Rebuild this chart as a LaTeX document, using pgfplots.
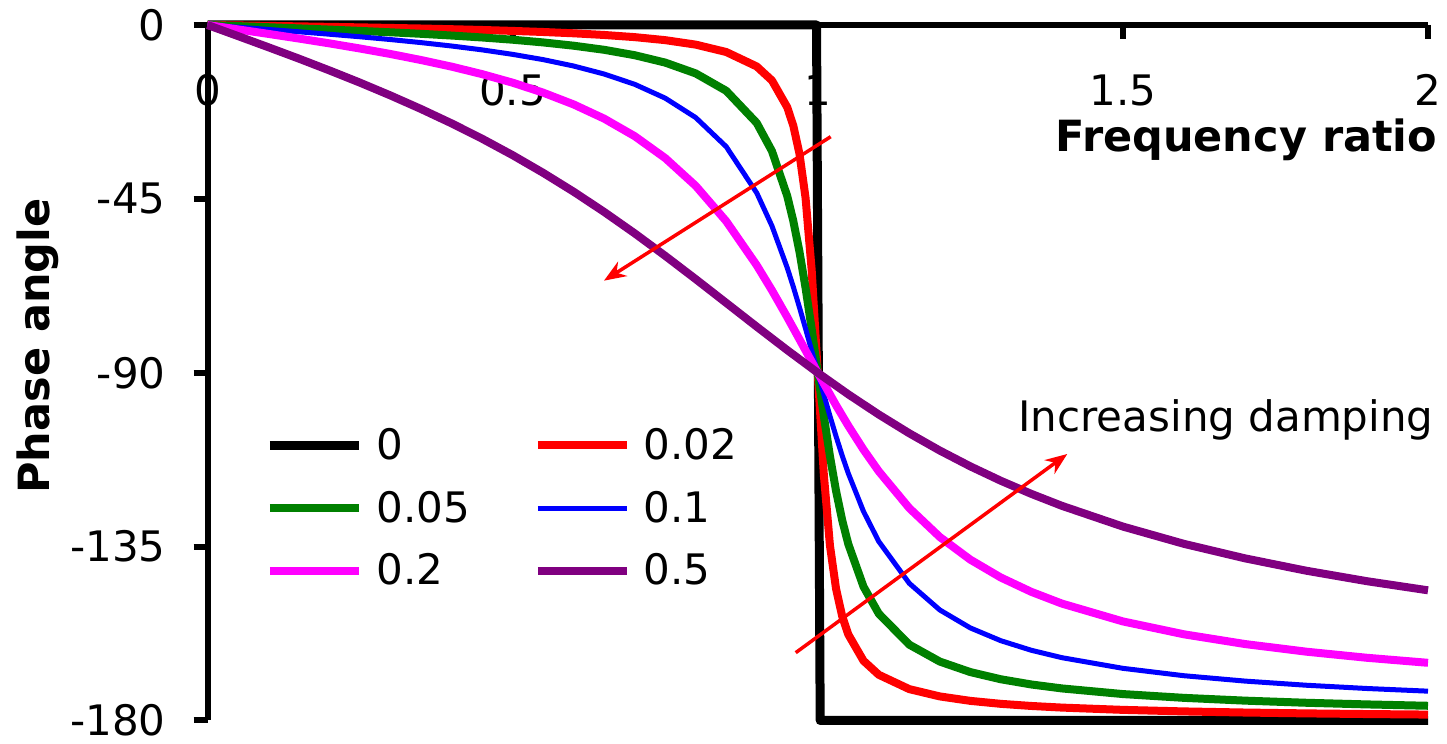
\documentclass[border=0pt]{standalone}
\usepackage{fontspec}
\setmainfont{DejaVu Sans}
\usepackage{pgfplots}
\pgfplotsset{compat=1.18}
\usetikzlibrary{arrows.meta}
\definecolor{xlgreen}{RGB}{0,128,0}
\definecolor{xlpurple}{RGB}{128,0,128}
\definecolor{xlmag}{RGB}{255,0,255}
\newcommand{\lbl}{\fontsize{21}{25}\selectfont}
\newcommand{\blbl}{\fontsize{21.5}{25}\selectfont\bfseries}
\begin{document}
\begin{tikzpicture}
\begin{axis}[
  scale only axis, width=610.25pt, height=347.75pt,
  xmin=0, xmax=2, ymin=-180, ymax=0,
  axis x line=top, axis y line=left,
  axis line style={-, line width=3pt, black},
  every outer x axis line/.append style={-},
  every outer y axis line/.append style={-},
  xtick={0,0.5,1,1.5,2}, ytick={0,-45,-90,-135,-180},
  xticklabels={0,0.5,1,1.5,2},
  yticklabels={0,-45,-90,-135,-180},
  tick align=inside, major tick length=7pt,
  tick style={line width=3pt, black},
  every y tick/.append style={xshift=-7pt},
  xticklabel style={anchor=north, inner sep=0pt, yshift=-24.5pt, font=\lbl},
  yticklabel style={anchor=east, inner sep=0pt, xshift=-20.75pt, font=\lbl},
  clip=false,
  legend columns=2,
  legend cell align=left,
  legend image code/.code={\draw[#1] (0pt,0pt) -- (44.5pt,0pt);},
  legend style={at={(axis cs:0.0942,-104.3)}, anchor=north west,
    draw=none, fill=none, inner sep=0pt, font=\lbl,
    nodes={inner sep=0pt}, row sep=14.2pt,
    /tikz/every odd column/.append style={column sep=6.5pt},
    /tikz/every even column/.append style={column sep=32pt}},
  every axis plot/.append style={line join=round},
]
\addplot[black, line width=4.5pt] coordinates {(0,0)(0.998,0)(1.004,-180)(2,-180)};
\addlegendentry{0}
\addplot[red, line width=4pt] coordinates {(0,0)(0.05,-0.11)(0.1,-0.23)(0.15,-0.35)(0.2,-0.48)(0.25,-0.61)(0.3,-0.76)(0.35,-0.91)(0.4,-1.09)(0.45,-1.29)(0.5,-1.53)(0.55,-1.81)(0.6,-2.15)(0.65,-2.58)(0.7,-3.14)(0.75,-3.92)(0.8,-5.08)(0.85,-6.99)(0.9,-10.73)(0.925,-14.37)(0.95,-21.29)(0.96,-26.10)(0.97,-33.29)(0.98,-44.71)(0.99,-63.32)(1,-90)(1.01,-116.45)(1.02,-134.72)(1.03,-145.92)(1.04,-152.99)(1.05,-157.72)(1.075,-164.55)(1.1,-168.17)(1.15,-171.88)(1.2,-173.77)(1.25,-174.92)(1.3,-175.69)(1.35,-176.24)(1.4,-176.66)(1.5,-177.25)(1.6,-177.65)(1.7,-177.94)(1.8,-178.16)(1.9,-178.33)(2,-178.47)};
\addlegendentry{0.02}
\addplot[xlgreen, line width=4pt] coordinates {(0,0)(0.05,-0.29)(0.1,-0.58)(0.15,-0.88)(0.2,-1.19)(0.25,-1.53)(0.3,-1.89)(0.35,-2.28)(0.4,-2.73)(0.45,-3.23)(0.5,-3.81)(0.55,-4.51)(0.6,-5.36)(0.65,-6.42)(0.7,-7.82)(0.75,-9.73)(0.8,-12.53)(0.85,-17.03)(0.9,-25.35)(0.925,-32.65)(0.95,-44.26)(0.96,-50.76)(0.97,-58.65)(0.98,-68.00)(0.99,-78.63)(1,-90)(1.01,-101.26)(1.02,-111.61)(1.03,-120.59)(1.04,-128.12)(1.05,-134.31)(1.075,-145.37)(1.1,-152.35)(1.15,-160.37)(1.2,-164.75)(1.25,-167.47)(1.3,-169.33)(1.35,-170.68)(1.4,-171.70)(1.5,-173.16)(1.6,-174.14)(1.7,-174.86)(1.8,-175.41)(1.9,-175.84)(2,-176.19)};
\addlegendentry{0.05}
\addplot[blue, line width=2.5pt] coordinates {(0,0)(0.05,-0.57)(0.1,-1.16)(0.15,-1.76)(0.2,-2.39)(0.25,-3.05)(0.3,-3.77)(0.35,-4.56)(0.4,-5.44)(0.45,-6.44)(0.5,-7.60)(0.55,-8.96)(0.6,-10.62)(0.65,-12.69)(0.7,-15.35)(0.75,-18.93)(0.8,-23.96)(0.85,-31.49)(0.9,-43.45)(0.925,-52.03)(0.95,-62.84)(0.96,-67.79)(0.97,-73.06)(0.98,-78.58)(0.99,-84.26)(1,-90)(1.01,-95.68)(1.02,-101.20)(1.03,-106.47)(1.04,-111.42)(1.05,-116.02)(1.075,-125.90)(1.1,-133.67)(1.15,-144.50)(1.2,-151.39)(1.25,-156.04)(1.3,-159.35)(1.35,-161.83)(1.4,-163.74)(1.5,-166.50)(1.6,-168.41)(1.7,-169.80)(1.8,-170.87)(1.9,-171.72)(2,-172.41)};
\addlegendentry{0.1}
\addplot[xlmag, line width=4pt] coordinates {(0,0)(0.05,-1.15)(0.1,-2.31)(0.15,-3.51)(0.2,-4.76)(0.25,-6.09)(0.3,-7.51)(0.35,-9.07)(0.4,-10.78)(0.45,-12.72)(0.5,-14.93)(0.55,-17.51)(0.6,-20.56)(0.65,-24.24)(0.7,-28.77)(0.75,-34.44)(0.8,-41.63)(0.85,-50.78)(0.9,-62.18)(0.925,-68.68)(0.95,-75.61)(0.97,-81.34)(1,-90)(1.03,-98.41)(1.05,-103.71)(1.075,-109.90)(1.1,-115.51)(1.15,-125.03)(1.2,-132.51)(1.25,-138.37)(1.3,-143.00)(1.35,-146.71)(1.4,-149.74)(1.5,-154.36)(1.6,-157.69)(1.7,-160.21)(1.8,-162.18)(1.9,-163.77)(2,-165.07)};
\addlegendentry{0.2}
\addplot[xlpurple, line width=4pt] coordinates {(0,0)(0.05,-2.87)(0.1,-5.77)(0.15,-8.72)(0.2,-11.77)(0.25,-14.93)(0.3,-18.25)(0.35,-21.75)(0.4,-25.46)(0.45,-29.43)(0.5,-33.69)(0.55,-38.26)(0.6,-43.15)(0.65,-48.38)(0.7,-53.92)(0.75,-59.74)(0.8,-65.77)(0.85,-71.92)(0.9,-78.08)(0.95,-84.14)(1,-90)(1.05,-95.58)(1.1,-100.81)(1.15,-105.67)(1.2,-110.14)(1.25,-114.23)(1.3,-117.96)(1.35,-121.35)(1.4,-124.44)(1.5,-129.81)(1.6,-134.28)(1.7,-138.03)(1.8,-141.22)(1.9,-143.95)(2,-146.31)};
\addlegendentry{0.5}
\node[anchor=base east, font=\blbl, inner sep=0pt] at (axis cs:2.0156,-32.87) {Frequency ratio};
\node[rotate=90, anchor=base, font=\blbl, inner sep=0pt] at (axis cs:-0.2581,-83.07) {Phase angle};
\node[anchor=base west, font=\lbl, inner sep=0pt] at (axis cs:1.3282,-105.33) {Increasing damping};
\draw[red, line width=1.75pt, -{Stealth[length=11pt,width=8.5pt]}] (axis cs:1.0212,-28.91) -- (axis cs:0.6497,-66.17);
\draw[red, line width=1.75pt, -{Stealth[length=11pt,width=8.5pt]}] (axis cs:0.9639,-162.45) -- (axis cs:1.4089,-111.03);
\coordinate (frameSW) at (axis cs:-0.34003,-186.077);
\coordinate (frameNE) at (axis cs:2.03114,6.470);
\end{axis}
\pgfresetboundingbox
\path (frameSW) rectangle (frameNE);
\end{tikzpicture}
\end{document}
